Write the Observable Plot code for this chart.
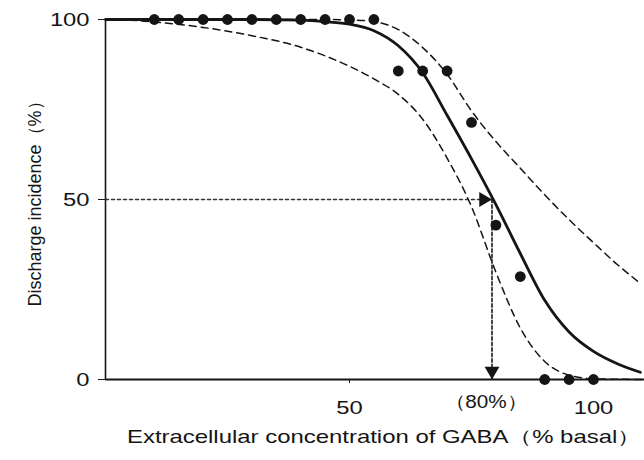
<!DOCTYPE html>
<html>
<head>
<meta charset="utf-8">
<script src="https://cdn.jsdelivr.net/npm/d3@7"></script>
<script src="https://cdn.jsdelivr.net/npm/@observablehq/plot@0.6"></script>
<style>
  html, body { margin: 0; padding: 0; background: #fff; }
</style>
</head>
<body>
<div id="chart"></div>
<script>
// Tick values and labels
const xTicks = [50, 100];
const yTicks = [0, 50, 100];
const xTitle = "Extracellular concentration of GABA（% basal）";
const yTitle = "Discharge incidence（%）";
const ec50Label = "（80%）";
const ec50 = 79.2;

// Observed discharge incidence (dots)
const obsX = [10, 15, 20, 25, 30, 35, 40, 45, 50, 55, 60, 65, 70, 75, 80, 85, 90, 95, 100];
const obsY = [100, 100, 100, 100, 100, 100, 100, 100, 100, 100, 85.7, 85.7, 85.7, 71.4, 42.9, 28.6, 0, 0, 0];

// Fitted curve (solid)
const fitX = [0, 30, 40, 45, 50, 55, 60, 65, 70, 75, 80, 85, 90, 95, 100, 105, 109.6];
const fitY = [100, 100, 99.8, 99.4, 98.7, 96.9, 92.7, 85.2, 73.4, 61.3, 48.6, 35, 22, 13.2, 7.8, 4.3, 2.0];

// Upper dashed bound
const hiX = [0, 30, 45, 50, 55, 60, 65, 70, 75, 80, 85, 90, 95, 100, 105, 109.6];
const hiY = [100, 100, 100, 99.9, 99.4, 97.2, 92.2, 84.8, 74.6, 66.1, 58.7, 51.3, 44.4, 38, 31.8, 26.7];

// Lower dashed bound
const loX = [0, 5, 10, 20, 30, 40, 45, 50, 55, 60, 65, 70, 75, 80, 85, 90, 95, 100, 110];
const loY = [100, 99.8, 99.3, 97.8, 95.5, 92.3, 89.9, 87.0, 83.5, 79.2, 72.3, 61.5, 48, 29.8, 14.3, 5, 1.2, 0.2, 0];

const obs = obsX.map((x, i) => ({x, y: obsY[i]}));
const fit = fitX.map((x, i) => ({x, y: fitY[i]}));
const hi = hiX.map((x, i) => ({x, y: hiY[i]}));
const lo = loX.map((x, i) => ({x, y: loY[i]}));

const ink = "#151515";
const font = "'Liberation Sans', Arial, Helvetica, sans-serif";

const chart = Plot.plot({
  width: 644,
  height: 460,
  marginLeft: 105,
  marginRight: 0,
  marginTop: 19,
  marginBottom: 81,
  style: {fontFamily: font, fontSize: "19px", color: ink, background: "#fff"},
  x: {domain: [0, 110.45], ticks: xTicks, tickSize: 4, tickPadding: 17, label: null},
  y: {domain: [0, 100], ticks: yTicks, tickSize: 7, tickPadding: 9, label: null},
  marks: [
    Plot.ruleX([0], {y1: 0, y2: 100, stroke: ink, strokeWidth: 1.6}),
    Plot.ruleY([0], {stroke: ink, strokeWidth: 2}),
    // EC50 guides
    Plot.line([{x: 0, y: 50}, {x: ec50, y: 50}], {x: "x", y: "y", stroke: "#333", strokeWidth: 1.5, strokeDasharray: "3,3"}),
    Plot.line([{x: ec50, y: 50}, {x: ec50, y: 0}], {x: "x", y: "y", stroke: "#333", strokeWidth: 1.8, strokeDasharray: "3,2.5"}),
    Plot.dot([{x: ec50, y: 50}], {x: "x", y: "y", symbol: "triangle", rotate: 90, r: 5.5, fill: ink, stroke: "none", dx: -8.5}),
    Plot.dot([{x: ec50, y: 0}], {x: "x", y: "y", symbol: "triangle", rotate: 180, r: 5.5, fill: ink, stroke: "none", dy: -8.5}),
    // curves
    Plot.line(hi, {x: "x", y: "y", curve: "monotone-x", stroke: ink, strokeWidth: 1.5, strokeDasharray: "7,5"}),
    Plot.line(lo, {x: "x", y: "y", curve: "monotone-x", stroke: ink, strokeWidth: 1.5, strokeDasharray: "7,5"}),
    Plot.line(fit, {x: "x", y: "y", curve: "monotone-x", stroke: ink, strokeWidth: 2.8}),
    Plot.dot(obs, {x: "x", y: "y", r: 5.4, fill: ink, stroke: "none"}),
    // texts
    Plot.text([ec50], {x: d => d, frameAnchor: "bottom", dx: -6, dy: 28, text: () => ec50Label, fontSize: 18, fill: ink}),
    Plot.text([xTitle], {frameAnchor: "bottom", dx: 9, dy: 63, text: d => d, fontSize: 18, fill: ink}),
    Plot.text([yTitle], {frameAnchor: "left", dx: -70, rotate: -90, textAnchor: "middle", text: d => d, fontSize: 18, fill: ink})
  ]
});

// The reference typesetting is horizontally wide: stretch horizontal labels about their anchors
d3.select(chart).selectAll("text").each(function() {
  const txt = this.textContent;
  if (txt === yTitle) return;
  const isTitle = txt === xTitle, isEc = txt === ec50Label;
  this.style.fontSize = isTitle || isEc ? "18px" : "19px";
  const sx = isTitle ? 1.33 : isEc ? 1.15 : 1.25;
  const t = this.getAttribute("transform") || "";
  this.setAttribute("transform", `${t} scale(${sx},1)`);
});

document.getElementById("chart").appendChild(chart);
</script>
</body>
</html>
